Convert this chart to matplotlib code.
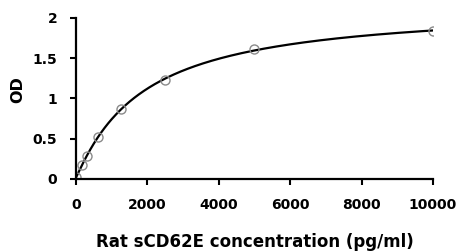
import numpy as np
import matplotlib
matplotlib.use('Agg')
import matplotlib.pyplot as plt

# standard points
conc = [0, 156, 312, 625, 1250, 2500, 5000, 10000]
od = [0.02, 0.17, 0.29, 0.52, 0.87, 1.23, 1.61, 1.84]

x_ticks = [0, 2000, 4000, 6000, 8000, 10000]
y_ticks = [0, 0.5, 1, 1.5, 2]
y_tick_labels = ['0', '0.5', '1', '1.5', '2']

# DejaVu bold is wide, close to the stretched Arial of the reference
plt.rcParams['font.family'] = ['DejaVu Sans']
plt.rcParams['font.weight'] = 'bold'

# 4PL fit: grid over slope/midpoint, linear least squares for the asymptotes
xd = np.array(conc, float)
yd = np.array(od, float)
best = None
for b in np.linspace(0.7, 2.0, 66):
    for c in np.logspace(2.5, 4.5, 200):
        g = 1.0 / (1.0 + (xd / c) ** b)
        A = np.column_stack([g, 1 - g])
        coef, *_ = np.linalg.lstsq(A, yd, rcond=None)
        err = np.sum((A @ coef - yd) ** 2)
        if best is None or err < best[0]:
            best = (err, b, c, coef)
_, b, c, (a, d) = best
xs = np.linspace(0, 10000, 400)
ys = d + (a - d) / (1 + (xs / c) ** b)

fig = plt.figure(figsize=(4.61, 2.52), dpi=100)
ax = fig.add_axes([0.165, 0.29, 0.774, 0.639])

ax.plot(xs, ys, color='black', lw=1.6)
ax.plot(conc, od, 'o', ms=6.5, mfc='none', mec='#8a8a8a', mew=1.0)

ax.set_xlim(0, 10000)
ax.set_ylim(0, 2)
ax.set_xticks(x_ticks)
ax.set_yticks(y_ticks)
ax.set_yticklabels(y_tick_labels)
for s in ['top', 'right']:
    ax.spines[s].set_visible(False)
for s in ['left', 'bottom']:
    ax.spines[s].set_linewidth(1.6)
ax.tick_params(direction='out', length=4.5, width=1.5, labelsize=10)
ax.tick_params(axis='x', pad=9)
ax.tick_params(axis='y', pad=9)
for lab in ax.get_xticklabels() + ax.get_yticklabels():
    lab.set_fontweight('bold')

ax.set_xlabel('Rat sCD62E concentration (pg/ml)', fontsize=12, fontweight='bold', labelpad=15)
ax.set_ylabel('OD', fontsize=11.5, fontweight='bold')
ax.yaxis.set_label_coords(-0.143, 0.553)

fig.savefig('out.png', dpi=100)
